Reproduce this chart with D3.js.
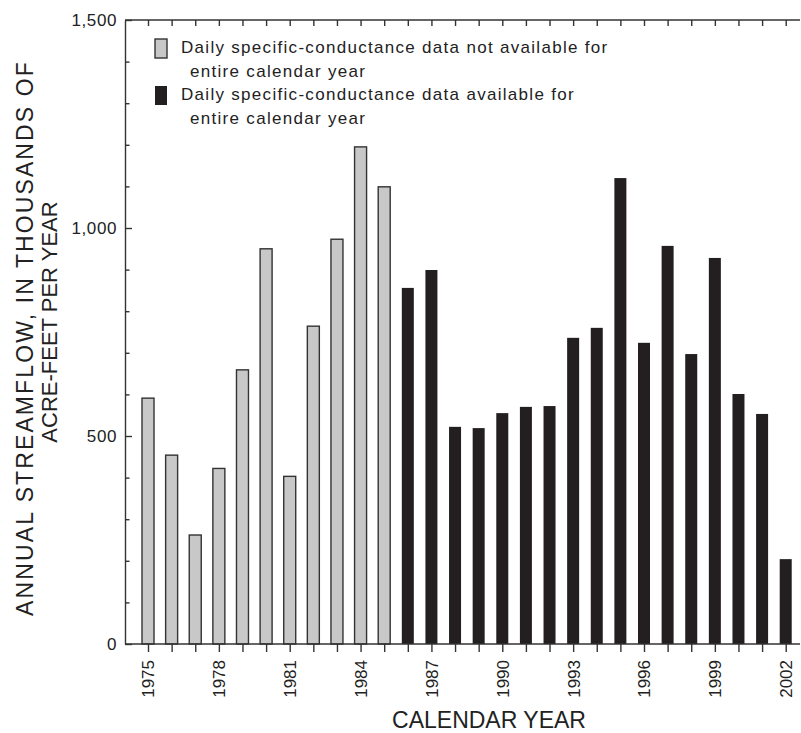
<!DOCTYPE html>
<html>
<head>
<meta charset="utf-8">
<script src="https://cdn.jsdelivr.net/npm/d3@7"></script>
<style>
  body { margin: 0; background: #fff; }
  svg { display: block; font-family: "Liberation Sans", Arial, Helvetica, sans-serif; }
</style>
</head>
<body>
<svg width="801" height="733"></svg>
<script>
const years = [1975, 1976, 1977, 1978, 1979, 1980, 1981, 1982, 1983, 1984,
    1985, 1986, 1987, 1988, 1989, 1990, 1991, 1992, 1993, 1994,
    1995, 1996, 1997, 1998, 1999, 2000, 2001, 2002];
// annual streamflow, thousands of acre-feet
const flow = [591, 454, 262, 422, 659, 950, 403, 764, 973, 1195,
    1099, 856, 899, 522, 519, 555, 570, 572, 736, 760,
    1120, 724, 957, 697, 928, 601, 553, 204];
// daily specific-conductance record complete for the year?
const complete = [false, false, false, false, false, false, false, false, false, false,
    false, true, true, true, true, true, true, true, true, true,
    true, true, true, true, true, true, true, true];
const labelYears = [1975, 1978, 1981, 1984, 1987, 1990, 1993, 1996, 1999, 2002];
const yTicks = [0, 500, 1000, 1500];

const legendItems = [
    { complete: false, lines: ['Daily specific-conductance data not available for', 'entire calendar year'] },
    { complete: true, lines: ['Daily specific-conductance data available for', 'entire calendar year'] }
];

const plotLeft = 125, plotRight = 800, plotTop = 20, plotBottom = 644;
const axisColor = '#333',
    darkFill = '#231f20',
    lightFill = '#c8c8c8';

const svg = d3.select('svg');

const x = d3.scaleLinear()
    .domain([1974.026, 2002.605])
    .range([plotLeft, plotRight]);

const y = d3.scaleLinear()
    .domain([0, 1500])
    .range([plotBottom, plotTop]);

const barW = 12;
const data = years.map((yr, i) => ({ year: yr, value: flow[i], complete: complete[i] }));

// bars
svg.append('g').selectAll('rect')
    .data(data)
    .enter().append('rect')
    .attr('x', d => x(d.year) - barW / 2)
    .attr('y', d => y(d.value))
    .attr('width', barW)
    .attr('height', d => y(0) - y(d.value))
    .style('fill', d => d.complete ? darkFill : lightFill)
    .style('stroke', d => d.complete ? 'none' : axisColor)
    .style('stroke-width', 1.4);

// bottom axis
const xAxis = svg.append('g')
    .attr('transform', 'translate(0,' + plotBottom + ')')
    .call(d3.axisBottom(x).tickValues(years).tickSize(8).tickSizeOuter(0).tickFormat(''));
xAxis.select('.domain').attr('d', 'M' + plotLeft + ',0H' + plotRight);

xAxis.selectAll('.tick')
    .filter(d => labelYears.includes(d))
    .append('text')
    .attr('transform', 'translate(0,16) rotate(-90)')
    .attr('dy', '0.35em')
    .attr('text-anchor', 'end')
    .style('fill', '#222')
    .style('font-size', '17px')
    .text(d => d);

// top axis, ticks pointing inwards
const xTop = svg.append('g')
    .attr('transform', 'translate(0,' + plotTop + ')')
    .call(d3.axisBottom(x).tickValues(years).tickSize(6).tickSizeOuter(0).tickFormat(''));
xTop.select('.domain').attr('d', 'M' + plotLeft + ',0H' + plotRight);

// left axis, minor ticks every 100 pointing in
const yAxis = svg.append('g')
    .attr('transform', 'translate(' + plotLeft + ',0)')
    .call(d3.axisRight(y).tickValues(d3.range(0, 1501, 100)).tickSize(5).tickSizeOuter(0).tickFormat(''));
yAxis.selectAll('.tick line')
    .attr('x2', d => d % 500 === 0 ? 7 : 4.5);

svg.append('g').selectAll('text')
    .data(yTicks)
    .enter().append('text')
    .attr('x', plotLeft - 8)
    .attr('y', d => y(d))
    .attr('dy', '0.36em')
    .attr('text-anchor', 'end')
    .style('font-size', '17px')
    .style('letter-spacing', '0.6px')
    .style('fill', '#222')
    .text(d => d3.format(',')(d));

svg.selectAll('.domain, .tick line')
    .style('stroke', axisColor)
    .style('stroke-width', 1.4);

// axis titles
svg.append('text')
    .attr('x', 489)
    .attr('y', 728)
    .attr('text-anchor', 'middle')
    .style('font-size', '23px')
    .style('fill', '#222')
    .text('CALENDAR YEAR');

const yTitle = svg.append('g')
    .attr('transform', 'translate(0,' + ((plotTop + plotBottom) / 2) + ') rotate(-90)')
    .style('fill', '#222');
yTitle.append('text')
    .attr('x', -6)
    .attr('y', 33)
    .attr('text-anchor', 'middle')
    .style('font-size', '23px')
    .style('letter-spacing', '2.1px')
    .text('ANNUAL STREAMFLOW,  IN THOUSANDS OF');
yTitle.append('text')
    .attr('x', 10)
    .attr('y', 57)
    .attr('text-anchor', 'middle')
    .style('font-size', '22px')
    .text('ACRE-FEET PER YEAR');

// legend
const legend = svg.append('g');
legendItems.forEach((item, i) => {
    const g = legend.append('g').attr('transform', 'translate(155,' + (39 + i * 47) + ')');
    g.append('rect')
        .attr('width', 12)
        .attr('height', 19)
        .style('fill', item.complete ? darkFill : lightFill)
        .style('stroke', item.complete ? 'none' : axisColor)
        .style('stroke-width', 1.4);
    item.lines.forEach((line, j) => {
        g.append('text')
            .attr('x', j === 0 ? 26 : 35)
            .attr('y', 14 + j * 24)
            .style('font-size', '17px')
            .style('letter-spacing', '1.3px')
            .style('fill', '#222')
            .text(line);
    });
});
</script>
</body>
</html>
